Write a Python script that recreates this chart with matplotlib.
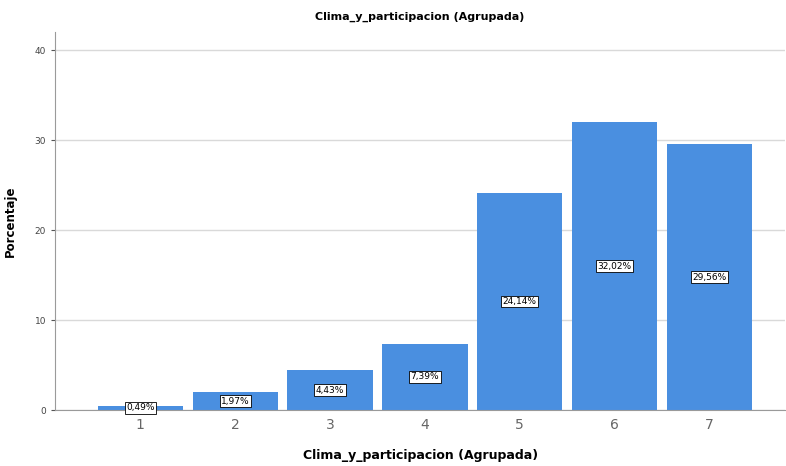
import matplotlib.pyplot as plt

categorias = ["1", "2", "3", "4", "5", "6", "7"]
porcentajes = [0.49, 1.97, 4.43, 7.39, 24.14, 32.02, 29.56]
etiquetas = ["0,49%", "1,97%", "4,43%", "7,39%", "24,14%", "32,02%", "29,56%"]

color_barra = "#4a8fe0"

fig = plt.figure(figsize=(7.86, 4.66), dpi=100)
ax = fig.add_axes([0.070, 0.120, 0.929, 0.811])

x = list(range(1, len(categorias) + 1))
ax.bar(x, porcentajes, width=0.9, color=color_barra, zorder=2)

for xi, v, txt in zip(x, porcentajes, etiquetas):
    ax.text(xi, v / 2, txt, ha="center", va="center", fontsize=6.5, zorder=3,
            bbox=dict(boxstyle="square,pad=0.15", fc="white", ec="black", lw=0.6))

ax.set_xlim(0.1, 7.8)
ax.set_ylim(0, 42)
ax.set_yticks([0, 10, 20, 30, 40])
ax.set_xticks(x)
ax.set_xticklabels(categorias)
ax.yaxis.grid(True, color="#d9d9d9", lw=1, zorder=0)
ax.set_axisbelow(True)

for s in ["top", "right"]:
    ax.spines[s].set_visible(False)
ax.spines["left"].set_color("#9a9a9a")
ax.spines["bottom"].set_color("#9a9a9a")
ax.tick_params(axis="y", labelsize=6.5, colors="#555555", length=3, labelcolor="#444444")
ax.tick_params(axis="x", labelsize=10, length=0, pad=6, labelcolor="#666666")

ax.set_title("Clima_y_participacion (Agrupada)", fontsize=8, fontweight="bold", pad=9)
ax.set_xlabel("Clima_y_participacion (Agrupada)", fontsize=9, fontweight="bold", labelpad=12)
ax.set_ylabel("Porcentaje", fontsize=8.5, fontweight="bold", labelpad=14)
ax.yaxis.set_label_coords(-0.052, 0.5)

plt.savefig("out.png", dpi=100)
